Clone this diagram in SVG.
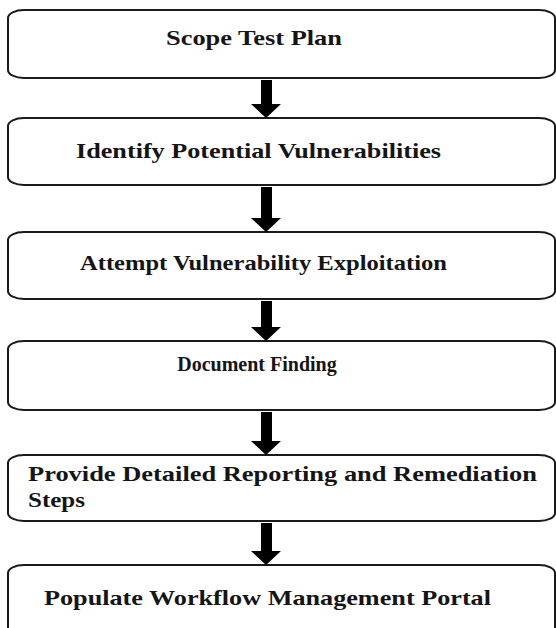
<svg xmlns="http://www.w3.org/2000/svg" width="556" height="628" viewBox="0 0 556 628">
<style>
.box{fill:#fff;stroke:#1a1a1a;stroke-width:2}
.t{font-family:'Liberation Serif','Times New Roman','DejaVu Serif',serif;font-weight:700;font-size:21px;fill:#151515}
.s{font-size:20px}
.arr{fill:#000}
</style>
<rect width="556" height="628" fill="#fff"/>
<g id="n1"><rect class="box" x="8" y="10" width="547" height="68" rx="16" ry="8"/><text class="t" x="166" y="45" textLength="176" lengthAdjust="spacingAndGlyphs">Scope Test Plan</text></g>
<g id="n2"><rect class="box" x="8" y="118" width="547" height="67" rx="16" ry="8"/><text class="t" x="76" y="158" textLength="365" lengthAdjust="spacingAndGlyphs">Identify Potential Vulnerabilities</text></g>
<g id="n3"><rect class="box" x="8" y="232" width="547" height="67" rx="16" ry="8"/><text class="t" x="80" y="270" textLength="367" lengthAdjust="spacingAndGlyphs">Attempt Vulnerability Exploitation</text></g>
<g id="n4"><rect class="box" x="8" y="341" width="547" height="69" rx="16" ry="8"/><text class="t s" x="257" y="371" text-anchor="middle">Document Finding</text></g>
<g id="n5"><rect class="box" x="8" y="455" width="547" height="66" rx="16" ry="8"/><text class="t" x="28" y="481" textLength="509" lengthAdjust="spacingAndGlyphs">Provide Detailed Reporting and Remediation</text><text class="t" x="28" y="507" textLength="57" lengthAdjust="spacingAndGlyphs">Steps</text></g>
<g id="n6"><rect class="box" x="8" y="565" width="547" height="72" rx="16" ry="8"/><text class="t" x="44" y="605" textLength="447" lengthAdjust="spacingAndGlyphs">Populate Workflow Management Portal</text></g>
<g id="connectors">
<path class="arr" d="M261,80 H272 V104 H281 L266,118 L251,104 H261 Z"/>
<path class="arr" d="M261,187 H272 V218 H281 L266,232 L251,218 H261 Z"/>
<path class="arr" d="M261,301 H272 V327 H281 L266,341 L251,327 H261 Z"/>
<path class="arr" d="M261,412 H272 V441 H281 L266,455 L251,441 H261 Z"/>
<path class="arr" d="M261,523 H272 V551 H281 L266,565 L251,551 H261 Z"/>
</g>
</svg>
